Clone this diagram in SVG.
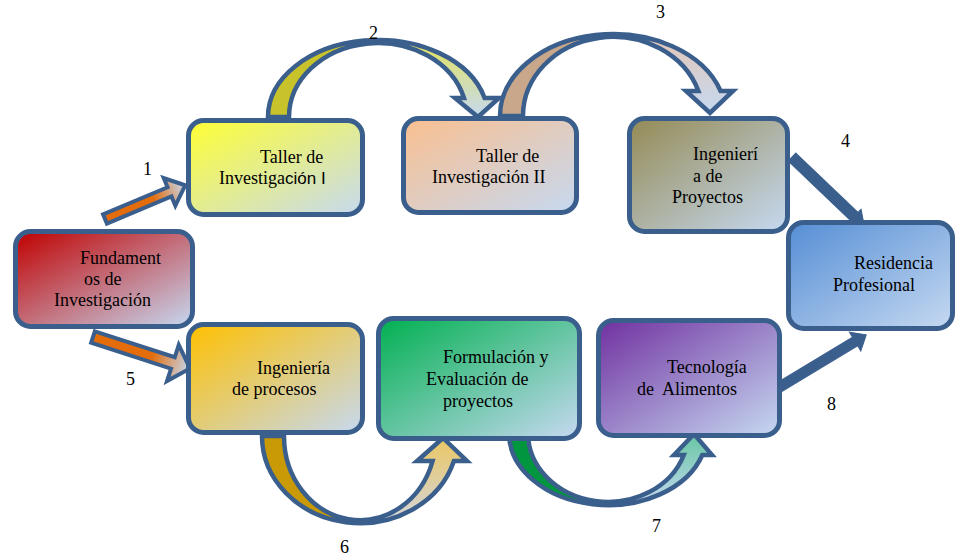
<svg xmlns="http://www.w3.org/2000/svg" width="956" height="556" viewBox="0 0 956 556">
<defs>
<style>
.box{stroke:#3b5f8d;stroke-width:5}
.out{fill:none;stroke:#3b5f8d;stroke-width:4.5;stroke-linejoin:miter}
.arr{stroke:#3b5f8d;stroke-width:4;stroke-linejoin:miter}
.solid{fill:#3b5f8d;stroke:#3b5f8d;stroke-width:1}
text{font-family:"Liberation Serif","Times New Roman",serif;font-size:18px;fill:#000}
.sans{font-family:"Liberation Sans",Arial,sans-serif;font-size:17px}
</style>
<linearGradient id="gRed" x1="0" y1="0" x2="1" y2="1"><stop offset="0" stop-color="#c00000"/><stop offset="1" stop-color="#c6d9f1"/></linearGradient>
<linearGradient id="gYel" x1="0" y1="0" x2="1" y2="1"><stop offset="0" stop-color="#ffff33"/><stop offset="1" stop-color="#c6d9f1"/></linearGradient>
<linearGradient id="gPea" x1="0" y1="0" x2="1" y2="1"><stop offset="0" stop-color="#fabf8f"/><stop offset="1" stop-color="#c6d9f1"/></linearGradient>
<linearGradient id="gOli" x1="0" y1="0" x2="1" y2="1"><stop offset="0" stop-color="#948a54"/><stop offset="1" stop-color="#c6d9f1"/></linearGradient>
<linearGradient id="gBlu" x1="0" y1="0" x2="1" y2="1"><stop offset="0" stop-color="#558ed5"/><stop offset="1" stop-color="#c6d9f1"/></linearGradient>
<linearGradient id="gGol" x1="0" y1="0" x2="1" y2="1"><stop offset="0" stop-color="#ffc000"/><stop offset="1" stop-color="#c6d9f1"/></linearGradient>
<linearGradient id="gGrn" x1="0" y1="0" x2="1" y2="1"><stop offset="0" stop-color="#00b050"/><stop offset="1" stop-color="#c6d9f1"/></linearGradient>
<linearGradient id="gPur" x1="0" y1="0" x2="1" y2="1"><stop offset="0" stop-color="#7030a0"/><stop offset="1" stop-color="#c6d9f1"/></linearGradient>
<linearGradient id="gOra" x1="0" y1="0" x2="1" y2="0"><stop offset="0" stop-color="#e46c0a"/><stop offset="0.6" stop-color="#e46c0a"/><stop offset="1" stop-color="#c6d9f1"/></linearGradient>
<linearGradient id="g2r" x1="0" y1="0" x2="0" y2="1"><stop offset="0" stop-color="#e2e45a"/><stop offset="1" stop-color="#c6d9f1"/></linearGradient>
<linearGradient id="g3r" x1="0" y1="0" x2="0" y2="1"><stop offset="0" stop-color="#e4c6b6"/><stop offset="1" stop-color="#c6d9f1"/></linearGradient>
<linearGradient id="g6r" x1="0" y1="0" x2="0" y2="1"><stop offset="0" stop-color="#ebc763"/><stop offset="1" stop-color="#d2d5dc"/></linearGradient>
<linearGradient id="g7r" x1="0" y1="0" x2="0" y2="1"><stop offset="0" stop-color="#66c6a2"/><stop offset="1" stop-color="#c6d9f1"/></linearGradient>
</defs>
<rect width="956" height="556" fill="#ffffff"/>

<g id="connectors">
  <!-- 1 -->
  <path class="arr" fill="url(#gOra)" transform="translate(105,219) rotate(-22.8)" d="M0,-5 L70,-5 L70,-15 L87,0 L70,15 L70,5 L0,5 Z"/>
  <!-- 5 -->
  <path class="arr" fill="url(#gOra)" transform="translate(93,337) rotate(18)" d="M0,-6 L84,-6 L84,-19 L102,0 L84,19 L84,6 L0,6 Z"/>
  <!-- 2 -->
  <g id="arrow2">
    <path fill="#c8c32a" d="M268,117 A110,77 0 0 1 378,40 L378,43 A89,74 0 0 0 289,117 Z"/>
    <path fill="url(#g2r)" d="M378,40 A110,77 0 0 1 484.6,98 L499,98 L478,117 L455,98 L464,98 A89,74 0 0 0 378,43 Z"/>
    <path class="out" d="M268,117 A110,77 0 0 1 484.6,98 L499,98 L478,117 L455,98 L464,98 A89,74 0 0 0 289,117 Z"/>
  </g>
  <!-- 3 -->
  <g id="arrow3">
    <path fill="#c9a78b" d="M500,116 A113,82 0 0 1 613,34 L613,37 A90,79 0 0 0 523,116 Z"/>
    <path fill="url(#g3r)" d="M613,34 A113,82 0 0 1 720.6,91 L733,91 L710,113 L686,91 L698.4,91 A90,79 0 0 0 613,37 Z"/>
    <path class="out" d="M500,116 A113,82 0 0 1 720.6,91 L733,91 L710,113 L686,91 L698.4,91 A90,79 0 0 0 523,116 Z"/>
  </g>
  <!-- 6 -->
  <g id="arrow6">
    <path fill="#c99a06" d="M262,436 A98,87 0 0 0 360,523 L360,520 A76,84 0 0 1 284,436 Z"/>
    <path fill="url(#g6r)" d="M360,523 A98,87 0 0 0 453.9,461 L467,461 L443,438 L417,461 L432.6,461 A76,84 0 0 1 360,520 Z"/>
    <path class="out" d="M262,436 A98,87 0 0 0 453.9,461 L467,461 L443,438 L417,461 L432.6,461 A76,84 0 0 1 284,436 Z"/>
  </g>
  <!-- 7 -->
  <g id="arrow7">
    <path fill="#00953f" d="M509,433 A99,72 0 0 0 608,505 L608,502 A80,69 0 0 1 528,433 Z"/>
    <path fill="url(#g7r)" d="M608,505 A99,72 0 0 0 702.3,455 L712,455 L694,434 L674,455 L683.8,455 A80,69 0 0 1 608,502 Z"/>
    <path class="out" d="M509,433 A99,72 0 0 0 702.3,455 L712,455 L694,434 L674,455 L683.8,455 A80,69 0 0 1 528,433 Z"/>
  </g>
  <!-- 4 -->
  <path class="solid" transform="translate(792,157) rotate(43.7)" d="M0,-5.5 L86,-5.5 L86,-10 L100,0 L86,10 L86,5.5 L0,5.5 Z"/>
  <!-- 8 -->
  <path class="solid" transform="translate(778,388) rotate(-31.06)" d="M0,-5 L90,-5 L90,-11 L103,0 L90,11 L90,5 L0,5 Z"/>
</g>

<g id="fundamentos">
  <rect class="box" x="15.5" y="231.5" width="177" height="95" rx="15" fill="url(#gRed)"/>
  <text x="80" y="264">Fundament</text>
  <text x="84" y="285">os de</text>
  <text x="54" y="306">Investigación</text>
</g>
<g id="taller1">
  <rect class="box" x="188.5" y="120.5" width="174" height="94" rx="15" fill="url(#gYel)"/>
  <text x="260" y="163">Taller de</text>
  <text x="219" y="184">Investiga<tspan class="sans">ción I</tspan></text>
</g>
<g id="taller2">
  <rect class="box" x="403.5" y="118.5" width="173" height="94" rx="15" fill="url(#gPea)"/>
  <text x="476" y="162">Taller de</text>
  <text x="432" y="183">Investigación II</text>
</g>
<g id="ingproyectos">
  <rect class="box" x="629.5" y="118.5" width="158" height="113" rx="15" fill="url(#gOli)"/>
  <text x="693" y="160">Ingenierí</text>
  <text x="693" y="182">a de</text>
  <text x="672" y="203">Proyectos</text>
</g>
<g id="residencia">
  <rect class="box" x="788.5" y="222.5" width="164" height="106" rx="15" fill="url(#gBlu)"/>
  <text x="854" y="269">Residencia</text>
  <text x="833" y="291">Profesional</text>
</g>
<g id="ingprocesos">
  <rect class="box" x="188.5" y="324.5" width="174" height="108" rx="15" fill="url(#gGol)"/>
  <text x="257" y="374">Ingeniería</text>
  <text x="232" y="395">de procesos</text>
</g>
<g id="formulacion">
  <rect class="box" x="378.5" y="318.5" width="201" height="120" rx="15" fill="url(#gGrn)"/>
  <text x="443" y="363">Formulación y</text>
  <text x="426" y="385">Evaluación de</text>
  <text x="443" y="407">proyectos</text>
</g>
<g id="tecnologia">
  <rect class="box" x="598.5" y="320.5" width="181" height="115" rx="15" fill="url(#gPur)"/>
  <text x="667" y="373">Tecnología</text>
  <text x="637" y="395" xml:space="preserve">de  Alimentos</text>
</g>

<g id="numbers">
  <text x="143" y="175">1</text>
  <text x="369" y="39">2</text>
  <text x="656" y="18">3</text>
  <text x="841" y="147">4</text>
  <text x="126" y="385">5</text>
  <text x="340" y="553">6</text>
  <text x="652" y="532">7</text>
  <text x="827" y="410">8</text>
</g>
</svg>
